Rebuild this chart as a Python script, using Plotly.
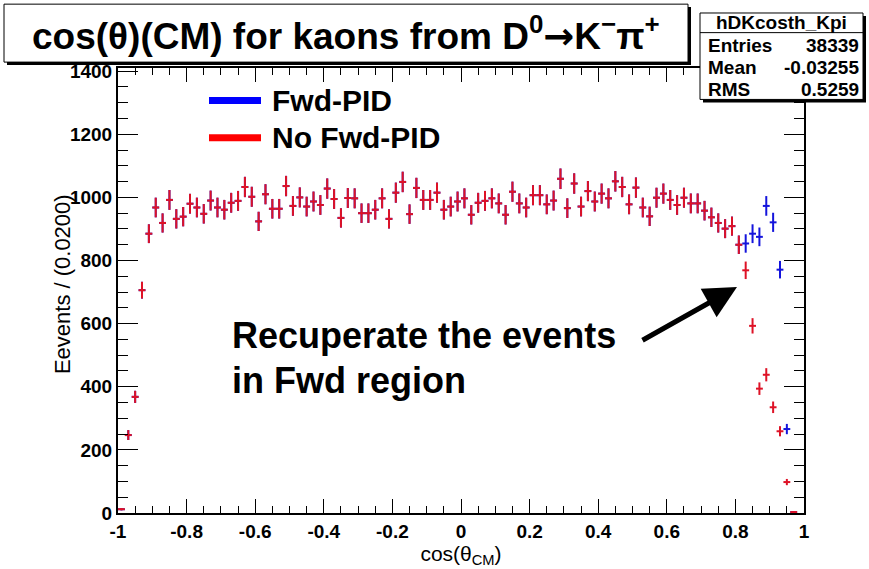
import numpy as np
import plotly.graph_objects as go

# ---------------- data ----------------
bin_centers = [round(-0.99 + 0.02 * i, 2) for i in range(100)]

no_fwd_pid = [
    12, 247, 368, 706, 885, 968, 919, 992, 932, 939,
    980, 968, 948, 990, 968, 961, 983, 989, 1033, 1002,
    924, 1010, 964, 964, 1036, 973, 1000, 971, 987, 976,
    1028, 995, 935, 998, 997, 950, 950, 961, 997, 932,
    1015, 1049, 947, 1030, 992, 992, 1015, 961, 971, 987,
    997, 945, 983, 989, 997, 981, 945, 1018, 981, 968,
    1007, 1007, 978, 990, 1059, 966, 1044, 971, 1020, 987,
    1012, 997, 1051, 1033, 978, 1031, 968, 940, 999, 1012,
    992, 976, 999, 981, 981, 958, 937, 919, 901, 909,
    850, 769, 593, 394, 438, 335, 259, 98, 3, None,
]

fwd_pid = list(no_fwd_pid)
fwd_extra = {91: 854, 92: 885, 93: 875, 94: 973, 95: 921, 96: 771, 97: 266}
for k, v in fwd_extra.items():
    fwd_pid[k] = v

x_ticks = [-1, -0.8, -0.6, -0.4, -0.2, 0, 0.2, 0.4, 0.6, 0.8, 1]
x_tick_labels = ["-1", "-0.8", "-0.6", "-0.4", "-0.2", "0", "0.2", "0.4", "0.6", "0.8", "1"]
y_ticks = [0, 200, 400, 600, 800, 1000, 1200, 1400]

stats_name = "hDKcosth_Kpi"
stats_rows = [("Entries", "38339"), ("Mean", "-0.03255"), ("RMS", "0.5259")]

# ---------------- geometry helpers (pixel -> paper) ----------------
L, R, T, B = 118, 804, 68, 521
W, H = R - L, B - T


def px(x):
    return (x - L) / W


def py(y):
    return (B - y) / H


FONT = "Liberation Sans, Arial, sans-serif"
RED = "rgb(222,18,38)"
BLUE = "rgb(20,20,220)"


def make_trace(vals, color, name):
    xs, ys, es = [], [], []
    for c, v in zip(bin_centers, vals):
        if v is None:
            continue
        xs.append(c)
        ys.append(v)
        es.append(np.sqrt(v))
    return go.Scatter(
        x=xs, y=ys, mode="markers", name=name,
        marker=dict(size=1, color=color, opacity=0),
        error_y=dict(type="data", array=es, visible=True, color=color, thickness=2, width=0),
        error_x=dict(type="constant", value=0.01, visible=True, color=color, thickness=2, width=0),
        showlegend=False, hoverinfo="x+y",
    )


fig = go.Figure()
fig.add_trace(make_trace(fwd_pid, BLUE, "Fwd-PID"))
fig.add_trace(make_trace(no_fwd_pid, RED, "No Fwd-PID"))

axis_common = dict(
    showgrid=False, zeroline=False, showline=True, linecolor="black", linewidth=2,
    mirror="ticks", ticks="inside", tickcolor="black", tickwidth=1,
    tickfont=dict(family=FONT, size=19, color="black", weight="bold"),
)

fig.update_xaxes(
    range=[-1, 1], tickvals=x_ticks, ticktext=x_tick_labels, ticklen=14,
    minor=dict(dtick=0.05, ticks="inside", ticklen=7, tickcolor="black", tickwidth=1),
    title=dict(text="cos(θ<sub>CM</sub>)", font=dict(family=FONT, size=21, color="black"), standoff=1),
    **axis_common,
)
fig.update_yaxes(
    range=[0, 1410], tickvals=y_ticks, ticklen=20,
    minor=dict(dtick=50, ticks="inside", ticklen=10, tickcolor="black", tickwidth=1),
    **axis_common,
)

shapes = []
ann = []

# y-axis title placed manually (it overlaps the tick labels in the reference)
ann.append(dict(xref="paper", yref="paper", x=px(62), y=py(288), xanchor="center", yanchor="middle",
                text="Eevents / (0.0200)", textangle=-90, showarrow=False,
                font=dict(family=FONT, size=22, color="black")))

# title box with shadow
shapes.append(dict(type="rect", xref="paper", yref="paper", x0=px(7), x1=px(691), y0=py(65), y1=py(6),
                   fillcolor="black", line=dict(width=0), layer="above"))
shapes.append(dict(type="rect", xref="paper", yref="paper", x0=px(4), x1=px(688), y0=py(62), y1=py(3),
                   fillcolor="white", line=dict(color="black", width=1), layer="above"))
ann.append(dict(xref="paper", yref="paper", x=px(346), y=py(33), xanchor="center", yanchor="middle",
                text=("cos(θ)(CM) for kaons from D<sup>0</sup>"
                      "<span style=\"font-family:DejaVu Sans\">→</span>K<sup>−</sup>π<sup>+</sup>"),
                showarrow=False,
                font=dict(family=FONT, size=37, color="black", weight="bold")))

# stats box
shapes.append(dict(type="rect", xref="paper", yref="paper", x0=px(703), x1=px(866), y0=py(103), y1=py(15),
                   fillcolor="black", line=dict(width=0), layer="above"))
shapes.append(dict(type="rect", xref="paper", yref="paper", x0=px(700), x1=px(863), y0=py(100), y1=py(12),
                   fillcolor="white", line=dict(color="black", width=1), layer="above"))
shapes.append(dict(type="line", xref="paper", yref="paper", x0=px(700), x1=px(863), y0=py(32), y1=py(32),
                   line=dict(color="black", width=1), layer="above"))
ann.append(dict(xref="paper", yref="paper", x=px(781), y=py(22), xanchor="center", yanchor="middle",
                text=stats_name, showarrow=False, font=dict(family=FONT, size=19, color="black", weight="bold")))
for j, (k, v) in enumerate(stats_rows):
    yy = py(45 + j * 22.5)
    ann.append(dict(xref="paper", yref="paper", x=px(706), y=yy, xanchor="left", yanchor="middle",
                    text=k, showarrow=False, font=dict(family=FONT, size=19, color="black", weight="bold")))
    ann.append(dict(xref="paper", yref="paper", x=px(861), y=yy, xanchor="right", yanchor="middle",
                    text=v, showarrow=False, font=dict(family=FONT, size=19, color="black", weight="bold")))

# legend
for yy, col, lab in [(101, "rgb(0,0,255)", "Fwd-PID"), (139, "rgb(255,0,0)", "No Fwd-PID")]:
    shapes.append(dict(type="line", xref="paper", yref="paper", x0=px(209), x1=px(261), y0=py(yy), y1=py(yy),
                       line=dict(color=col, width=7), layer="above"))
    ann.append(dict(xref="paper", yref="paper", x=px(270), y=py(yy), xanchor="left", yanchor="middle",
                    text=lab, showarrow=False, font=dict(family=FONT, size=30, color="black", weight="bold")))

# comment text + arrow
ann.append(dict(xref="paper", yref="paper", x=px(230), y=py(340), xanchor="left", yanchor="middle",
                text="Recuperate the events", showarrow=False,
                font=dict(family=FONT, size=36, color="black", weight="bold")))
ann.append(dict(xref="paper", yref="paper", x=px(230), y=py(386), xanchor="left", yanchor="middle",
                text="in Fwd region", showarrow=False,
                font=dict(family=FONT, size=36, color="black", weight="bold")))
ann.append(dict(xref="paper", yref="paper", x=px(737), y=py(291), ax=-96, ay=54, text="",
                showarrow=True, arrowhead=2, arrowsize=1.3, arrowwidth=5, arrowcolor="black"))

fig.update_layout(
    width=869, height=569,
    margin=dict(l=L, r=869 - R, t=T, b=569 - B),
    paper_bgcolor="white", plot_bgcolor="white",
    shapes=shapes, annotations=ann, showlegend=False,
)

fig.write_html("out.html")
